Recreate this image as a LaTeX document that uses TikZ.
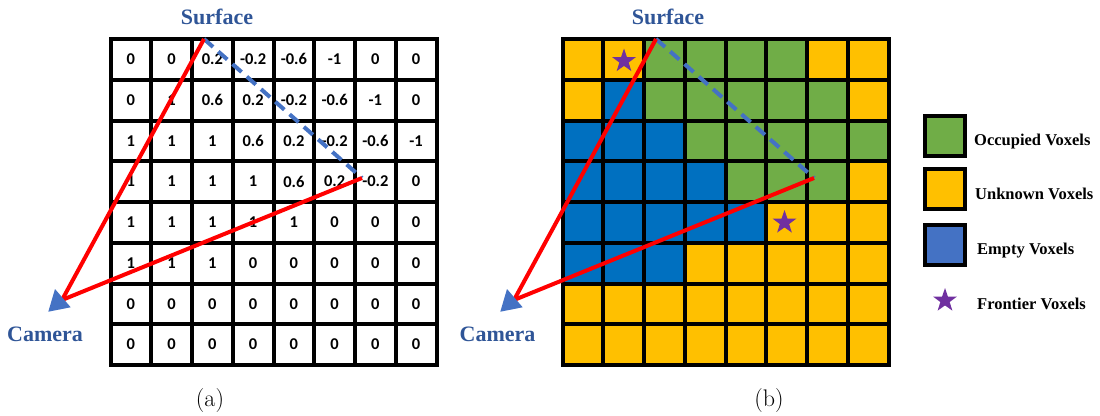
\documentclass[tikz,border=0pt]{standalone}
\usepackage{fontspec}
\setmainfont{Liberation Serif}
\newfontfamily\numfont{Carlito}
\newfontfamily\capfont{Latin Modern Roman}
\usetikzlibrary{shapes.geometric}
\definecolor{cG}{HTML}{70AD47}
\definecolor{cY}{HTML}{FFC000}
\definecolor{cB}{HTML}{0070C0}
\definecolor{legemp}{HTML}{4472C4}
\definecolor{frt}{HTML}{7030A0}
\definecolor{lblblue}{HTML}{2F5597}
\definecolor{dashblue}{HTML}{4472C4}
\begin{document}
\begin{tikzpicture}[x=1pt,y=-1pt,
  cellbox/.style={draw=black, line width=4pt, minimum size=40.75pt, inner sep=0pt,
    font=\numfont\bfseries\fontsize{16.5}{18}\selectfont},
  legbox/.style={draw=black, line width=4pt, minimum size=40pt, inner sep=0pt},
  starshape/.style={star, star points=5, star point ratio=2.55, fill=frt, draw=none,
    minimum size=25pt, inner sep=0pt},
  legtext/.style={font=\bfseries\fontsize{16.5}{18}\selectfont, anchor=base west, inner sep=0pt},
  bluelbl/.style={font=\bfseries\fontsize{22}{24}\selectfont, text=lblblue, anchor=base, inner sep=0pt},
  caplbl/.style={font=\capfont\fontsize{24}{26}\selectfont, anchor=base, inner sep=0pt},
  redline/.style={draw=red, line width=4pt},
  dashline/.style={draw=dashblue, line width=4pt, dash pattern=on 12pt off 7pt},
  camtri/.style={fill=dashblue}
]
\useasboundingbox (0,0) rectangle (1100,415);
% left grid (a)
\foreach \row [count=\r] in {{0,0,0.2,-0.2,-0.6,-1,0,0},{0,1,0.6,0.2,-0.2,-0.6,-1,0},{1,1,1,0.6,0.2,-0.2,-0.6,-1},{1,1,1,1,0.6,0.2,-0.2,0},{1,1,1,1,1,0,0,0},{1,1,1,0,0,0,0,0},{0,0,0,0,0,0,0,0},{0,0,0,0,0,0,0,0}}{
  \foreach \v [count=\c] in \row {
    \node[cellbox] (L-\r-\c) at ({110.5+40.75*(\c-0.5)},{39+40.75*(\r-0.5)}) {\v};
  }
}
% right grid (b)
\foreach \row [count=\r] in {{cY,cY,cG,cG,cG,cG,cY,cY},{cY,cB,cG,cG,cG,cG,cG,cY},{cB,cB,cB,cG,cG,cG,cG,cG},{cB,cB,cB,cB,cG,cG,cG,cY},{cB,cB,cB,cB,cB,cY,cY,cY},{cB,cB,cB,cY,cY,cY,cY,cY},{cY,cY,cY,cY,cY,cY,cY,cY},{cY,cY,cY,cY,cY,cY,cY,cY}}{
  \foreach \col [count=\c] in \row {
    \node[cellbox, fill=\col] (R-\r-\c) at ({562.5+40.75*(\c-0.5)},{39+40.75*(\r-0.5)}) {};
  }
}
\node[starshape] (S1) at (624,61) {};
\node[starshape] (S2) at (784.5,222.5) {};
% key points
\coordinate (apexL) at (204,39);
\coordinate (endL) at (362,178);
\coordinate (camL) at (62,300);
\coordinate (apexR) at (656,39);
\coordinate (endR) at (814,178);
\coordinate (camR) at (514,300);
% surface dashed lines
\draw[dashline] (apexL) -- (endL);
\draw[dashline] (apexR) -- (endR);
% rays
\draw[redline] (apexL) -- (camL);
\draw[redline] (endL) -- (camL);
\draw[redline] (apexR) -- (camR);
\draw[redline] (endR) -- (camR);
% cameras
\fill[camtri, shift={(camL)}] (-13.7,11.7) -- (-7,-11) -- (8.7,7.3) -- cycle;
\fill[camtri, shift={(camR)}] (-13.7,11.7) -- (-7,-11) -- (8.7,7.3) -- cycle;
% labels
\node[bluelbl] (surfL) at (217,24) {Surface};
\node[bluelbl] (surfR) at (668,24) {Surface};
\node[bluelbl] (camLtxt) at (45,341.5) {Camera};
\node[bluelbl] (camRtxt) at (497.5,341.5) {Camera};
\node[caplbl] (capA) at (210,406) {(a)};
\node[caplbl] (capB) at (769,406) {(b)};
% legend
\node[legbox, fill=cG] (legO) at (944.7,136.2) {};
\node[legbox, fill=cY] (legU) at (944.7,188.7) {};
\node[legbox, fill=legemp] (legE) at (944.7,244.7) {};
\node[starshape] (legF) at (945,300.5) {};
\node[legtext] (txtO) at (974,145) {Occupied Voxels};
\node[legtext] (txtU) at (975,199) {Unknown Voxels};
\node[legtext] (txtE) at (977,254) {Empty Voxels};
\node[legtext] (txtF) at (977,309) {Frontier Voxels};
\end{tikzpicture}
\end{document}
